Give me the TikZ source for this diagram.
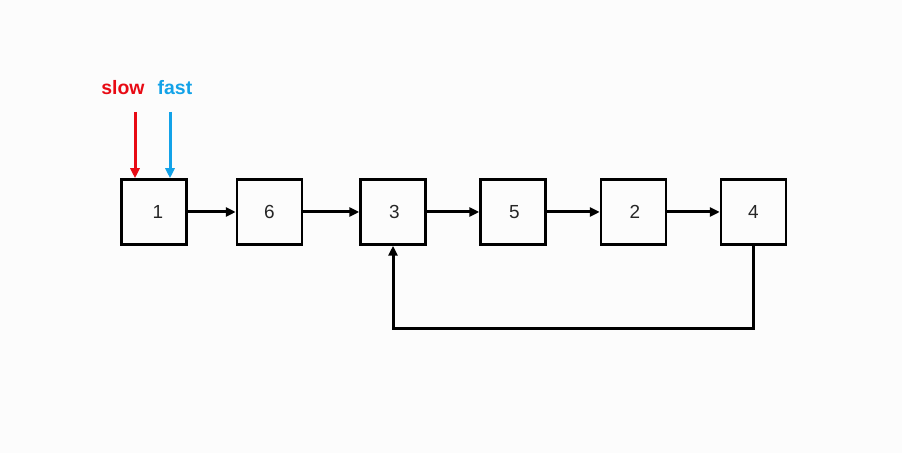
\documentclass[tikz,border=0pt]{standalone}
\usepackage{fontspec}
\setmainfont{Liberation Sans}
\usetikzlibrary{arrows.meta}
\definecolor{bgc}{RGB}{252,252,252}
\definecolor{slowred}{RGB}{232,10,20}
\definecolor{fastblue}{RGB}{18,162,232}
\tikzset{
  listbox/.style={draw=black, line width=2.5bp, minimum width=65bp, minimum height=65bp, inner sep=0pt, font=\fontsize{19}{19}\selectfont, text=black!85},
  linkarr/.style={line width=3bp, -{Triangle[length=10bp,width=9bp]}, line join=miter},
  ptrarr/.style={line width=3bp, -{Triangle[length=10bp,width=9bp]}},
  ptrlab/.style={font=\bfseries\fontsize{19.5}{19.5}\selectfont, inner sep=0pt}
}
\begin{document}
\begin{tikzpicture}[x=1bp,y=-1bp]
\fill[bgc] (0,0) rectangle (902,453);
\useasboundingbox (0,0) rectangle (902,453);
\node[listbox] (b1) at (154,212) {\hspace{8bp}1};
\node[listbox] (b6) at (269.5,212) {6};
\node[listbox] (b3) at (393,212) {\hspace{3bp}3};
\node[listbox] (b5) at (513,212) {\hspace{3bp}5};
\node[listbox] (b2) at (633.5,212) {\hspace{3bp}2};
\node[listbox] (b4) at (753.5,212) {4};
\draw[linkarr] (b1.east) -- (b6.west);
\draw[linkarr] (b6.east) -- (b3.west);
\draw[linkarr] (b3.east) -- (b5.west);
\draw[linkarr] (b5.east) -- (b2.west);
\draw[linkarr] (b2.east) -- (b4.west);
\draw[linkarr] (b4.south) -- ++(0,83) -| (b3.south);
\node[ptrlab, text=slowred] (slow) at (123,88) {slow};
\node[ptrlab, text=fastblue] (fast) at (175,88) {fast};
\coordinate (s0) at (135,112);
\coordinate (f0) at (170,112);
\draw[ptrarr, slowred] (s0) -- (s0 |- b1.north);
\draw[ptrarr, fastblue] (f0) -- (f0 |- b1.north);
\end{tikzpicture}
\end{document}
